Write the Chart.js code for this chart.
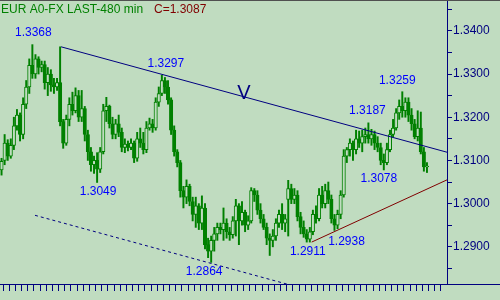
<!DOCTYPE html>
<html>
<head>
<meta charset="utf-8">
<script src="https://cdn.jsdelivr.net/npm/chart.js@4.4.0/dist/chart.umd.min.js"></script>
<style>
  html, body { margin: 0; padding: 0; background: #c0dcc0; }
  canvas { display: block; }
</style>
</head>
<body>
<canvas id="chart" width="500" height="300"></canvas>
<script>
// EUR A0-FX, 480 min bars
var opens = [
  1.3078, 1.3100, 1.3140, 1.3110, 1.3135, 1.3180, 1.3205, 1.3160, 1.3230, 1.3270,
  1.3320, 1.3300, 1.3335, 1.3315, 1.3322, 1.3280, 1.3300, 1.3275, 1.3270, 1.3280,
  1.3190, 1.3140, 1.3195, 1.3230, 1.3215, 1.3250, 1.3200, 1.3220, 1.3160, 1.3120,
  1.3090, 1.3100, 1.3080, 1.3120, 1.3215, 1.3225, 1.3185, 1.3160, 1.3185, 1.3165,
  1.3130, 1.3138, 1.3130, 1.3140, 1.3105, 1.3150, 1.3140, 1.3125, 1.3175, 1.3185,
  1.3175, 1.3235, 1.3255, 1.3285, 1.3270, 1.3240, 1.3170, 1.3120, 1.3095, 1.3030,
  1.3015, 1.3040, 1.3005, 1.2975, 1.2995, 1.2955, 1.2990, 1.2905, 1.2890, 1.2915,
  1.2930, 1.2945, 1.2940, 1.2955, 1.2935, 1.2928, 1.2960, 1.2995, 1.2960, 1.2980,
  1.2950, 1.2960, 1.3030, 1.3020, 1.2985, 1.2965, 1.2945, 1.2920, 1.2915, 1.2925,
  1.2955, 1.2975, 1.2955, 1.3010, 1.3035, 1.3010, 1.3020, 1.2970, 1.2945, 1.2930,
  1.2918, 1.2935, 1.2975, 1.2965, 1.3020, 1.3000, 1.3030, 1.3010, 1.2965, 1.2950,
  1.2975, 1.3020, 1.3110, 1.3125, 1.3140, 1.3125, 1.3150, 1.3140, 1.3155, 1.3160,
  1.3150, 1.3160, 1.3140, 1.3130, 1.3100, 1.3095, 1.3125, 1.3160, 1.3175, 1.3210,
  1.3225, 1.3215, 1.3235, 1.3205, 1.3185, 1.3155, 1.3175, 1.3120, 1.3085
];
var highs = [
  1.3105, 1.3160, 1.3148, 1.3150, 1.3200, 1.3218, 1.3210, 1.3245, 1.3285, 1.3335,
  1.3368, 1.3345, 1.3340, 1.3330, 1.3330, 1.3315, 1.3310, 1.3290, 1.3290, 1.3363,
  1.3195, 1.3205, 1.3245, 1.3258, 1.3268, 1.3262, 1.3262, 1.3225, 1.3170, 1.3130,
  1.3110, 1.3118, 1.3130, 1.3230, 1.3246, 1.3228, 1.3200, 1.3195, 1.3205, 1.3175,
  1.3150, 1.3145, 1.3150, 1.3145, 1.3165, 1.3175, 1.3165, 1.3190, 1.3198, 1.3195,
  1.3245, 1.3270, 1.3297, 1.3292, 1.3285, 1.3245, 1.3180, 1.3125, 1.3100, 1.3040,
  1.3055, 1.3045, 1.3015, 1.3015, 1.3000, 1.3018, 1.3000, 1.2920, 1.2925, 1.2945,
  1.2955, 1.2955, 1.2990, 1.2965, 1.2945, 1.2970, 1.3010, 1.3000, 1.3005, 1.2985,
  1.2972, 1.3037, 1.3035, 1.3030, 1.3000, 1.2975, 1.2955, 1.2930, 1.2940, 1.2965,
  1.2985, 1.3000, 1.2975, 1.3054, 1.3045, 1.3035, 1.3030, 1.2980, 1.2960, 1.2940,
  1.2945, 1.2985, 1.2995, 1.3035, 1.3040, 1.3045, 1.3050, 1.3020, 1.2975, 1.2985,
  1.3030, 1.3125, 1.3130, 1.3150, 1.3145, 1.3170, 1.3168, 1.3170, 1.3175, 1.3187,
  1.3172, 1.3168, 1.3155, 1.3140, 1.3115, 1.3140, 1.3170, 1.3195, 1.3220, 1.3240,
  1.3259, 1.3245, 1.3245, 1.3220, 1.3195, 1.3215, 1.3212, 1.3130, 1.3095
];
var lows = [
  1.3066, 1.3090, 1.3100, 1.3105, 1.3125, 1.3170, 1.3145, 1.3150, 1.3220, 1.3255,
  1.3290, 1.3290, 1.3300, 1.3305, 1.3265, 1.3250, 1.3260, 1.3255, 1.3262, 1.3180,
  1.3128, 1.3135, 1.3180, 1.3205, 1.3210, 1.3190, 1.3190, 1.3145, 1.3100, 1.3075,
  1.3070, 1.3049, 1.3072, 1.3115, 1.3190, 1.3175, 1.3150, 1.3150, 1.3155, 1.3120,
  1.3118, 1.3122, 1.3125, 1.3095, 1.3098, 1.3130, 1.3115, 1.3118, 1.3170, 1.3165,
  1.3170, 1.3225, 1.3250, 1.3255, 1.3230, 1.3160, 1.3110, 1.3085, 1.3015, 1.2990,
  1.3000, 1.2995, 1.2960, 1.2945, 1.2940, 1.2940, 1.2895, 1.2875, 1.2864, 1.2890,
  1.2915, 1.2930, 1.2915, 1.2920, 1.2915, 1.2920, 1.2925, 1.2905, 1.2950, 1.2935,
  1.2940, 1.2955, 1.3005, 1.2975, 1.2955, 1.2940, 1.2905, 1.2880, 1.2900, 1.2915,
  1.2945, 1.2940, 1.2935, 1.2925, 1.3000, 1.3000, 1.2960, 1.2930, 1.2922, 1.2911,
  1.2911, 1.2928, 1.2955, 1.2960, 1.2990, 1.2990, 1.3000, 1.2955, 1.2938, 1.2942,
  1.2965, 1.3015, 1.3095, 1.3110, 1.3100, 1.3115, 1.3130, 1.3120, 1.3140, 1.3140,
  1.3135, 1.3125, 1.3120, 1.3090, 1.3078, 1.3090, 1.3120, 1.3155, 1.3170, 1.3195,
  1.3200, 1.3200, 1.3190, 1.3170, 1.3150, 1.3145, 1.3115, 1.3075, 1.3072
];
var closes = [
  1.3098, 1.3140, 1.3110, 1.3135, 1.3180, 1.3205, 1.3160, 1.3230, 1.3270, 1.3320,
  1.3300, 1.3335, 1.3315, 1.3322, 1.3280, 1.3300, 1.3275, 1.3270, 1.3280, 1.3190,
  1.3140, 1.3195, 1.3230, 1.3215, 1.3250, 1.3200, 1.3220, 1.3160, 1.3120, 1.3090,
  1.3100, 1.3080, 1.3120, 1.3215, 1.3225, 1.3185, 1.3160, 1.3185, 1.3165, 1.3130,
  1.3138, 1.3130, 1.3140, 1.3105, 1.3150, 1.3140, 1.3125, 1.3175, 1.3185, 1.3175,
  1.3235, 1.3255, 1.3285, 1.3270, 1.3240, 1.3170, 1.3120, 1.3095, 1.3030, 1.3015,
  1.3040, 1.3005, 1.2975, 1.2995, 1.2955, 1.2990, 1.2905, 1.2890, 1.2915, 1.2930,
  1.2945, 1.2940, 1.2955, 1.2935, 1.2928, 1.2960, 1.2995, 1.2960, 1.2980, 1.2950,
  1.2960, 1.3030, 1.3020, 1.2985, 1.2965, 1.2945, 1.2920, 1.2915, 1.2925, 1.2955,
  1.2975, 1.2955, 1.2965, 1.3035, 1.3010, 1.3020, 1.2970, 1.2945, 1.2930, 1.2918,
  1.2935, 1.2975, 1.2965, 1.3020, 1.3000, 1.3030, 1.3010, 1.2965, 1.2950, 1.2975,
  1.3020, 1.3110, 1.3125, 1.3140, 1.3125, 1.3150, 1.3140, 1.3155, 1.3160, 1.3150,
  1.3160, 1.3140, 1.3130, 1.3100, 1.3095, 1.3125, 1.3160, 1.3175, 1.3210, 1.3225,
  1.3215, 1.3235, 1.3205, 1.3185, 1.3155, 1.3175, 1.3120, 1.3085, 1.3087
];

// price axis: a tick every half cent, labels on the whole ones
var priceTicks = [1.285, 1.290, 1.295, 1.300, 1.305, 1.310, 1.315, 1.320, 1.325, 1.330, 1.335, 1.340, 1.345];
var priceLabels = ['', '1.2900', '', '1.3000', '', '1.3100', '', '1.3200', '', '1.3300', '', '1.3400', ''];

// swing highs / lows that carry a price label (bar index, price)
var markIndex = [10, 52, 31, 68, 100, 108, 119, 124, 130];
var markPrice = [1.3368, 1.3297, 1.3049, 1.2864, 1.2911, 1.2938, 1.3187, 1.3078, 1.3259];

// drawn lines, as [bar index, price] end points
var upperLine = [[19.3, 1.3363], [144.5, 1.3119]];
var supportLine = [[100.6, 1.2911], [144.5, 1.3055]];
var channelLine = [[10.85, 1.2973], [93, 1.2813]];

var green = '#008000';
var bg = '#c0dcc0';
var navy = '#000080';
var maroon = '#800000';
var font = '"Liberation Sans", Arial, sans-serif';

// where each price label sits relative to its bar (pixels)
var markOffset = [[1, -12], [4, -12], [1, 9], [-7, 9], [-2, 10], [12, 11], [-1, -12], [-5, 9], [-5, -11]];

var xTicks = [];
for (var k = 0; k < 72; k++) {
  xTicks.push(0.5 + 2 * k);
}

function pts(line) {
  return line.map(function(p) { return {x: p[0], y: p[1]}; });
}

var bodyData = opens.map(function(o, i) { return {x: i, y: [o, closes[i]]}; });
var wickData = highs.map(function(h, i) { return {x: i, y: [lows[i], h]}; });
var bodyFill = opens.map(function(o, i) { return closes[i] > o ? bg : green; });

var decor = {
  id: 'decor',
  beforeDraw: function(chart) {
    var c = chart.ctx;
    c.save();
    c.fillStyle = bg;
    c.fillRect(0, 0, chart.width, chart.height);
    c.restore();
  },
  afterDraw: function(chart) {
    var c = chart.ctx;
    var x = chart.scales.x;
    var y = chart.scales.y;
    var a = chart.chartArea;
    c.save();
    c.fillStyle = '#505050';
    c.fillRect(0, 0, chart.width, 1);
    c.fillStyle = navy;
    c.fillRect(a.right, a.bottom, chart.width - a.right, 1);

    c.font = '12px ' + font;
    c.textBaseline = 'alphabetic';
    c.textAlign = 'left';
    c.fillStyle = green;
    c.fillText('EUR A0-FX LAST-480 min', 1, 13);
    c.fillStyle = maroon;
    c.fillText('C=' + closes[closes.length - 1].toFixed(4), 154, 13);

    c.textAlign = 'center';
    c.textBaseline = 'middle';
    c.fillStyle = '#0000ff';
    for (var k = 0; k < markIndex.length; k++) {
      c.fillText(markPrice[k].toFixed(4),
        x.getPixelForValue(markIndex[k]) + markOffset[k][0],
        y.getPixelForValue(markPrice[k]) + markOffset[k][1]);
    }

    c.font = '20px ' + font;
    c.fillStyle = navy;
    c.fillText('V', x.getPixelForValue(78.6), y.getPixelForValue(1.3255));
    c.restore();
  }
};

new Chart(document.getElementById('chart'), {
  type: 'bar',
  data: {
    datasets: [
      {
        type: 'line',
        data: pts(upperLine),
        borderColor: navy,
        borderWidth: 1,
        pointRadius: 0,
        order: 0
      },
      {
        type: 'line',
        data: pts(supportLine),
        borderColor: maroon,
        borderWidth: 1,
        pointRadius: 0,
        order: 0
      },
      {
        type: 'line',
        data: pts(channelLine),
        borderColor: navy,
        borderWidth: 1,
        borderDash: [3, 3],
        pointRadius: 0,
        order: 0
      },
      {
        data: bodyData,
        barThickness: 3.4,
        borderWidth: 1,
        borderSkipped: false,
        borderColor: green,
        backgroundColor: bodyFill,
        grouped: false,
        order: 1
      },
      {
        data: wickData,
        barThickness: 1.3,
        borderWidth: 0,
        backgroundColor: green,
        grouped: false,
        order: 2
      }
    ]
  },
  options: {
    responsive: false,
    animation: false,
    devicePixelRatio: 1,
    layout: { padding: { top: 1, left: 0, right: 0, bottom: 0 } },
    plugins: {
      legend: { display: false },
      tooltip: { enabled: false },
      title: { display: false }
    },
    scales: {
      x: {
        type: 'linear',
        min: -0.5,
        max: 144.5,
        offset: false,
        grid: { offset: false, drawOnChartArea: false, drawTicks: true, tickLength: 7, color: navy },
        border: { color: navy, width: 1 },
        ticks: { display: false, autoSkip: false },
        afterBuildTicks: function(s) {
          s.ticks = xTicks.map(function(v) { return {value: v}; });
        },
        afterFit: function(s) {
          s.height = 16;
          s.paddingLeft = 0;
          s.paddingRight = 0;
        }
      },
      y: {
        type: 'linear',
        position: 'right',
        min: 1.2814,
        max: 1.3469,
        grid: { drawOnChartArea: false, drawTicks: true, tickLength: 5, color: navy },
        border: { color: navy, width: 1 },
        ticks: {
          color: navy,
          font: { family: font, size: 12 },
          padding: 1,
          autoSkip: false,
          callback: function(v, i) { return priceLabels[i]; }
        },
        afterBuildTicks: function(s) {
          s.ticks = priceTicks.map(function(v) { return {value: v}; });
        },
        afterFit: function(s) {
          s.width = 53;
          s.paddingTop = 0;
          s.paddingBottom = 0;
        }
      }
    }
  },
  plugins: [decor]
});
</script>
</body>
</html>
